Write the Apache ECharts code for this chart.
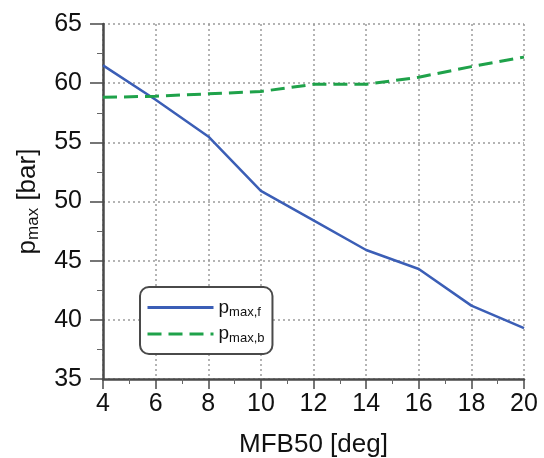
<!DOCTYPE html>
<html>
<head>
<meta charset="utf-8">
<script src="https://cdn.jsdelivr.net/npm/echarts@6/dist/echarts.min.js"></script>
<style>
  html, body { margin: 0; padding: 0; background: #fff; }
  #main { width: 544px; height: 458px; }
</style>
</head>
<body>
<div id="main"></div>
<script>
// data
var mfb50 = [4, 6, 8, 10, 12, 14, 16, 18, 20];
var pmaxF = [61.5, 58.6, 55.5, 50.9, 48.4, 45.9, 44.3, 41.2, 39.3];
var pmaxB = [58.8, 58.9, 59.1, 59.3, 59.9, 59.9, 60.5, 61.4, 62.2];
var seriesNames = ["pmax,f", "pmax,b"];

var chartDom = document.getElementById("main");
var myChart = echarts.init(chartDom);

var axisFont = "Liberation Sans";
var textColor = "#111";
var gridLine = { show: true, lineStyle: { color: "#9c9c9c", type: [2, 3], width: 1.5 } };

var option = {
  animation: false,
  grid: { left: 103, right: 20, top: 24, bottom: 79, outerBoundsMode: "none", containLabel: false },
  legend: {
    orient: "vertical",
    left: 140,
    top: 287,
    width: 130,
    itemWidth: 66,
    itemHeight: 10,
    itemGap: 6,
    padding: [11, 8, 9, 6],
    backgroundColor: "#fff",
    borderColor: "#4a4a4a",
    borderWidth: 2,
    borderRadius: 9,
    itemStyle: { opacity: 0 },
    lineStyle: { width: 3 },
    data: seriesNames,
    formatter: function (name) {
      var parts = name.split(",");
      return "{p|p}{s|max," + parts[1] + "}";
    },
    textStyle: {
      rich: {
        p: { fontFamily: axisFont, fontSize: 19, color: textColor },
        s: { fontFamily: axisFont, fontSize: 13, color: textColor, verticalAlign: "bottom", padding: [9, 0, 0, 0] }
      }
    }
  },
  xAxis: {
    type: "value",
    min: 4,
    max: 20,
    interval: 2,
    name: "MFB50 [deg]",
    nameLocation: "middle",
    nameGap: 53,
    nameTextStyle: { fontFamily: axisFont, fontSize: 26, color: textColor },
    axisLine: { lineStyle: { color: "#4a4a4a", width: 2.5 } },
    axisTick: { length: 10, lineStyle: { color: "#4a4a4a", width: 1.5 } },
    minorTick: { show: true, splitNumber: 2, length: 5, lineStyle: { color: "#666", width: 1 } },
    axisLabel: { fontFamily: axisFont, fontSize: 25, color: textColor, margin: 13 },
    splitLine: gridLine
  },
  yAxis: {
    type: "value",
    min: 35,
    max: 65,
    interval: 5,
    name: "{p|p}{s|max}{p| [bar]}",
    nameLocation: "middle",
    nameGap: 61,
    nameTextStyle: {
      rich: {
        p: { fontFamily: axisFont, fontSize: 26, color: textColor },
        s: { fontFamily: axisFont, fontSize: 17, color: textColor, verticalAlign: "bottom", padding: [12, 0, 0, 0] }
      }
    },
    axisLine: { show: true, lineStyle: { color: "#4a4a4a", width: 2.5 } },
    axisTick: { show: true, length: 13, lineStyle: { color: "#4a4a4a", width: 1.5 } },
    minorTick: { show: true, splitNumber: 2, length: 6, lineStyle: { color: "#666", width: 1 } },
    axisLabel: { fontFamily: axisFont, fontSize: 25, color: textColor, margin: 21 },
    splitLine: gridLine
  },
  series: [
    {
      name: seriesNames[0],
      type: "line",
      showSymbol: false,
      symbol: "none",
      data: mfb50.map(function (x, i) { return [x, pmaxF[i]]; }),
      lineStyle: { color: "#3b5eb6", width: 2.5 },
      itemStyle: { color: "#3b5eb6" }
    },
    {
      name: seriesNames[1],
      type: "line",
      showSymbol: false,
      symbol: "none",
      data: mfb50.map(function (x, i) { return [x, pmaxB[i]]; }),
      lineStyle: { color: "#1fa24a", width: 3, type: [14, 7] },
      itemStyle: { color: "#1fa24a" }
    }
  ]
};

myChart.setOption(option);
</script>
</body>
</html>
